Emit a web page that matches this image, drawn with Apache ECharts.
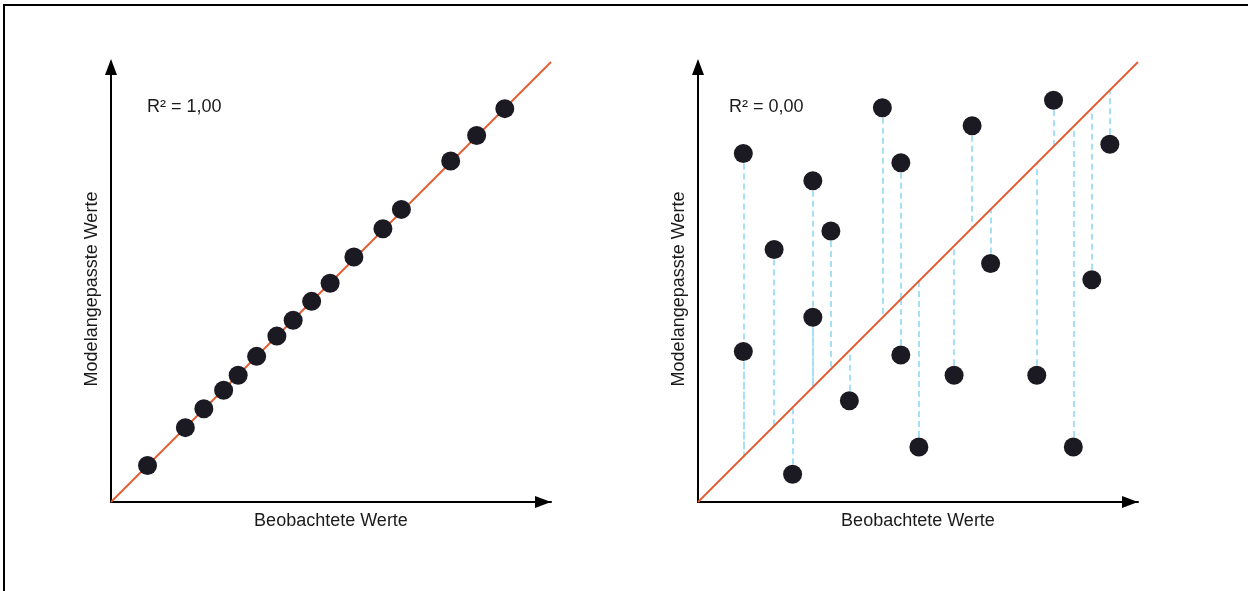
<!DOCTYPE html>
<html>
<head>
<meta charset="utf-8">
<script src="https://cdn.jsdelivr.net/npm/echarts@6/dist/echarts.min.js"></script>
<style>
html,body{margin:0;padding:0;background:#fff;}
#chart{width:1248px;height:591px;}
</style>
</head>
<body>
<div id="chart"></div>
<script>
// Left panel: observed vs fitted (perfect fit)
const leftObserved = [8.3, 16.9, 21.1, 25.6, 28.9, 33.1, 37.7, 41.4, 45.6, 49.8, 55.2, 61.8, 66.0, 77.2, 83.1, 89.5];
const leftFitted   = [8.3, 16.9, 21.2, 25.4, 28.8, 33.1, 37.7, 41.3, 45.6, 49.7, 55.7, 62.1, 66.5, 77.5, 83.3, 89.4];
// Right panel: observed vs fitted (no fit)
const rightObserved = [10.3, 10.3, 17.3, 21.5, 26.1, 26.1, 30.2, 34.4, 41.9, 46.1, 46.1, 50.2, 58.2, 62.3, 66.5, 77.0, 80.8, 85.3, 89.5, 93.6];
const rightFitted   = [79.2, 34.2, 57.4, 6.3, 73.0, 42.0, 61.6, 23.0, 89.6, 77.1, 33.4, 12.5, 28.8, 85.5, 54.2, 28.8, 91.3, 12.5, 50.5, 81.3];
// Reference (identity) line endpoints
const refLine = [[0, 0], [100, 100]];
const xAxisTitle = 'Beobachtete Werte';
const yAxisTitle = 'Modelangepasste Werte';
const r2Labels = ['R² = 1,00', 'R² = 0,00'];

const FONT = '"Liberation Sans", Arial, sans-serif';
const TEXT = '#1a1a1a';
const DOT = '#1b1a23';
const ORANGE = '#e8592b';
const DASH = '#a6e0f6';

function mkX(i) {
  return {
    type: 'value', gridIndex: i, min: 0, max: 100,
    splitLine: {show: false}, axisTick: {show: false}, axisLabel: {show: false},
    axisLine: {show: true, lineStyle: {color: '#000', width: 2},
      symbol: ['none', 'triangle'], symbolSize: [12, 16], symbolOffset: [0, -8]},
    name: xAxisTitle, nameLocation: 'middle', nameGap: 10,
    nameTextStyle: {fontFamily: FONT, fontSize: 18, color: TEXT}
  };
}
function mkY(i) {
  return {
    type: 'value', gridIndex: i, min: 0, max: 100,
    splitLine: {show: false}, axisTick: {show: false}, axisLabel: {show: false},
    axisLine: {show: true, lineStyle: {color: '#000', width: 2},
      symbol: ['none', 'triangle'], symbolSize: [12, 16], symbolOffset: [0, -5]},
    name: yAxisTitle, nameLocation: 'middle', nameGap: 10,
    nameTextStyle: {fontFamily: FONT, fontSize: 18, color: TEXT, padding: [0, 14, 0, 0]}
  };
}

const leftPts = leftObserved.map((x, i) => [x, leftFitted[i]]);
const rightPts = rightObserved.map((x, i) => [x, rightFitted[i]]);
const residuals = rightObserved.map((x, i) => ({coords: [[x, rightFitted[i]], [x, x]]}));

const chart = echarts.init(document.getElementById('chart'), null, {renderer: 'canvas'});
chart.setOption({
  animation: false,
  backgroundColor: '#fff',
  grid: [
    {left: 111, top: 62, width: 440, height: 440},
    {left: 698, top: 62, width: 440, height: 440}
  ],
  xAxis: [mkX(0), mkX(1)],
  yAxis: [mkY(0), mkY(1)],
  graphic: [
    {type: 'rect', silent: true, shape: {x: 4, y: 5, width: 1400, height: 800},
      style: {fill: 'none', stroke: '#000', lineWidth: 2}},
    {type: 'text', left: 147, top: 98, style: {text: r2Labels[0], font: '18px ' + FONT, fill: TEXT}},
    {type: 'text', left: 729, top: 98, style: {text: r2Labels[1], font: '18px ' + FONT, fill: TEXT}}
  ],
  series: [
    {type: 'line', xAxisIndex: 0, yAxisIndex: 0, data: refLine, symbol: 'none',
      lineStyle: {color: ORANGE, width: 1.8}, z: 3},
    {type: 'scatter', xAxisIndex: 0, yAxisIndex: 0, data: leftPts, symbolSize: 19,
      itemStyle: {color: DOT, opacity: 1}, z: 5},
    {type: 'lines', coordinateSystem: 'cartesian2d', xAxisIndex: 1, yAxisIndex: 1, data: residuals,
      lineStyle: {color: DASH, width: 2, type: [6, 4], opacity: 1}, z: 2},
    {type: 'line', xAxisIndex: 1, yAxisIndex: 1, data: refLine, symbol: 'none',
      lineStyle: {color: ORANGE, width: 1.8}, z: 3},
    {type: 'scatter', xAxisIndex: 1, yAxisIndex: 1, data: rightPts, symbolSize: 19,
      itemStyle: {color: DOT, opacity: 1}, z: 5}
  ]
});
</script>
</body>
</html>
